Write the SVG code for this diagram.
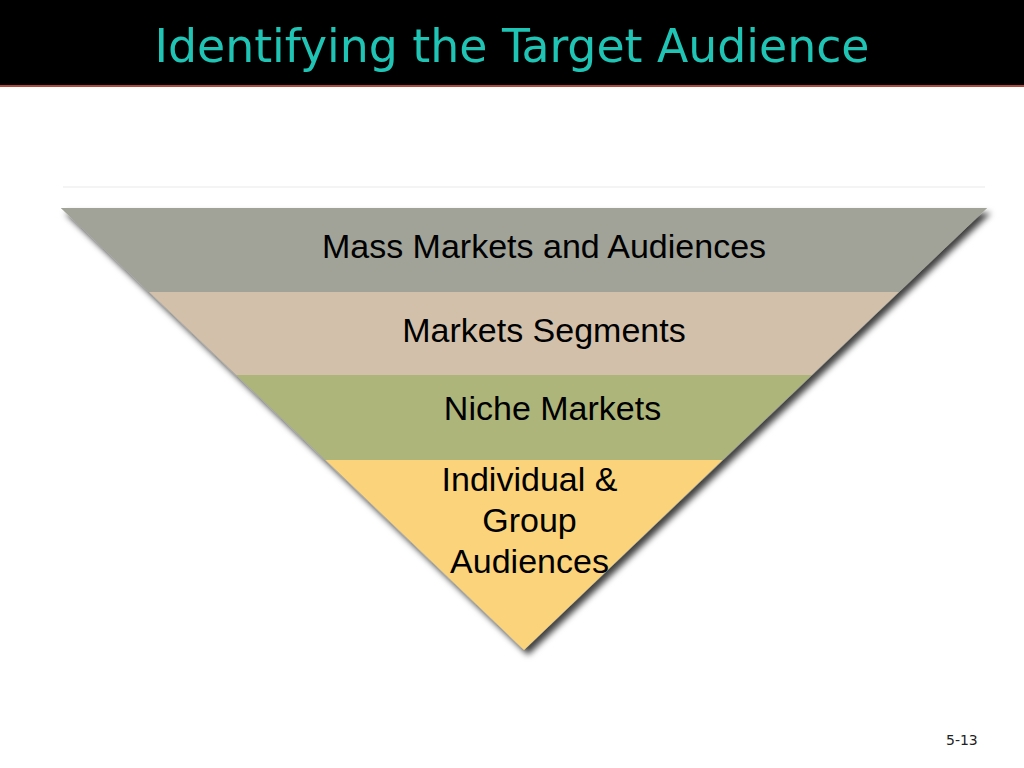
<svg xmlns="http://www.w3.org/2000/svg" width="1024" height="768" viewBox="0 0 1024 768">
  <defs>
    <filter id="shadow" x="-10%" y="-10%" width="130%" height="130%">
      <feDropShadow dx="4" dy="5" stdDeviation="3" flood-color="#000" flood-opacity="0.75"/>
    </filter>
    <style>
      .lbl { font-family: "Liberation Sans", Arial, sans-serif; font-size: 34px; fill: #000; text-anchor: middle; }
      .title { font-family: "DejaVu Sans Condensed", "DejaVu Sans", Verdana, sans-serif; font-size: 46px; fill: #1fc4b4; text-anchor: middle; }
      .pg { font-family: "DejaVu Sans", Verdana, sans-serif; font-size: 14px; fill: #222; }
    </style>
  </defs>
  <rect x="0" y="0" width="1024" height="768" fill="#ffffff"/>
  <g id="header">
    <rect x="0" y="0" width="1024" height="85" fill="#000"/>
    <rect x="0" y="85" width="1024" height="2" fill="#b0483c"/>
    <text class="title" x="512" y="62" textLength="715" lengthAdjust="spacingAndGlyphs">Identifying the Target Audience</text>
  </g>
  <line x1="63" y1="187" x2="985" y2="187" stroke="#f1f1f1" stroke-width="1.5"/>
  <g id="funnel-shadow">
    <polygon points="61,208 987,208 524,650" fill="#a1a398" filter="url(#shadow)"/>
  </g>
  <g id="mass">
    <polygon points="61,208 987,208 898.8,292 149.2,292" fill="#a1a398"/>
    <text class="lbl" x="544" y="258">Mass Markets and Audiences</text>
  </g>
  <g id="segments">
    <polygon points="149.2,292 898.8,292 811.7,375 236.3,375" fill="#d3c0aa"/>
    <text class="lbl" x="544" y="342">Markets Segments</text>
  </g>
  <g id="niche">
    <polygon points="236.3,375 811.7,375 722.5,460 325.5,460" fill="#adb57a"/>
    <text class="lbl" x="552.5" y="420">Niche Markets</text>
  </g>
  <g id="individual">
    <polygon points="325.5,460 722.5,460 524,650" fill="#fad37b"/>
    <text class="lbl" x="529.5" y="491">Individual &amp;</text>
    <text class="lbl" x="529.5" y="532">Group</text>
    <text class="lbl" x="529.5" y="573">Audiences</text>
  </g>
  <g id="connectors"></g>
  <text class="pg" x="946" y="745">5-13</text>
</svg>
